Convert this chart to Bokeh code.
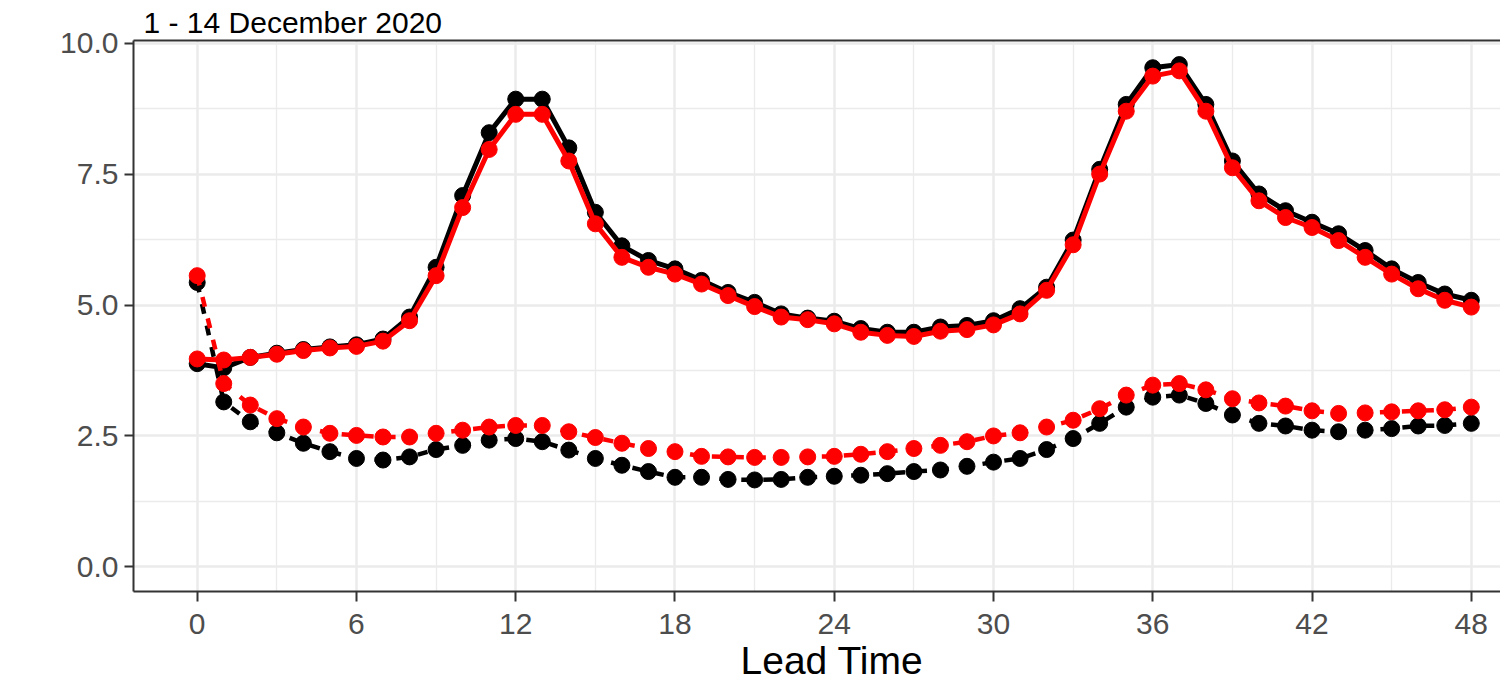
from bokeh.plotting import figure
from bokeh.models import Range1d, FixedTicker, NumeralTickFormatter, LinearAxis, Title
from bokeh.embed import file_html
from bokeh.resources import INLINE

# ---- data ----
lead_time = list(range(0, 49))

upper_black = [3.88, 3.80, 4.00, 4.08, 4.15, 4.20, 4.24, 4.35, 4.77, 5.72,
               7.09, 8.29, 8.93, 8.93, 8.00, 6.77, 6.13, 5.85, 5.69, 5.47,
               5.24, 5.05, 4.83, 4.75, 4.69, 4.55, 4.48, 4.48, 4.58, 4.61,
               4.70, 4.93, 5.34, 6.24, 7.59, 8.83, 9.53, 9.59, 8.83, 7.75,
               7.12, 6.80, 6.58, 6.36, 6.04, 5.69, 5.43, 5.21, 5.09]
upper_red = [3.97, 3.95, 4.00, 4.06, 4.13, 4.18, 4.21, 4.31, 4.70, 5.56,
             6.86, 7.97, 8.64, 8.64, 7.75, 6.55, 5.91, 5.72, 5.59, 5.40,
             5.18, 4.97, 4.77, 4.72, 4.64, 4.48, 4.42, 4.40, 4.50, 4.53,
             4.62, 4.83, 5.28, 6.15, 7.50, 8.70, 9.37, 9.47, 8.70, 7.62,
             6.99, 6.67, 6.48, 6.23, 5.91, 5.59, 5.31, 5.09, 4.96]
lower_black = [5.43, 3.15, 2.77, 2.56, 2.36, 2.20, 2.07, 2.04, 2.10, 2.24,
               2.32, 2.42, 2.45, 2.39, 2.23, 2.07, 1.94, 1.82, 1.71, 1.71,
               1.67, 1.66, 1.67, 1.71, 1.73, 1.75, 1.78, 1.82, 1.85, 1.92,
               2.00, 2.07, 2.24, 2.45, 2.74, 3.05, 3.24, 3.28, 3.12, 2.90,
               2.74, 2.69, 2.61, 2.58, 2.61, 2.64, 2.69, 2.70, 2.74]
lower_red = [5.56, 3.50, 3.09, 2.83, 2.67, 2.55, 2.51, 2.48, 2.48, 2.55,
             2.61, 2.67, 2.70, 2.70, 2.58, 2.47, 2.36, 2.26, 2.20, 2.11,
             2.10, 2.09, 2.09, 2.10, 2.11, 2.15, 2.20, 2.26, 2.32, 2.39,
             2.50, 2.56, 2.67, 2.80, 3.02, 3.28, 3.47, 3.50, 3.38, 3.21,
             3.13, 3.07, 2.98, 2.93, 2.94, 2.96, 2.98, 3.00, 3.05]

x_ticks = [0, 6, 12, 18, 24, 30, 36, 42, 48]
x_minor = [3, 9, 15, 21, 27, 33, 39, 45]
y_ticks = [0, 2.5, 5.0, 7.5, 10.0]
y_minor = [1.25, 3.75, 6.25, 8.75]
title_text = "1 - 14 December 2020"
x_label = "Lead Time"

FONT = "Liberation Sans"

p = figure(width=1500, height=693, output_backend="svg", toolbar_location=None,
           x_range=Range1d(-2.4, 49.1), y_range=Range1d(-0.47, 10.05),
           min_border_left=133, min_border_right=0, min_border_top=40,
           min_border_bottom=102, x_axis_location=None, y_axis_location=None)
p.outline_line_color = None
p.background_fill_color = "white"
p.border_fill_color = "white"

# axes
xaxis = LinearAxis(ticker=FixedTicker(ticks=x_ticks, minor_ticks=x_minor))
yaxis = LinearAxis(ticker=FixedTicker(ticks=y_ticks, minor_ticks=y_minor),
                   formatter=NumeralTickFormatter(format="0.0"))
topaxis = LinearAxis(ticker=FixedTicker(ticks=[]))
for ax in (xaxis, yaxis, topaxis):
    ax.axis_line_color = "#333333"
    ax.axis_line_width = 2
    ax.major_tick_line_color = "#333333"
    ax.major_tick_line_width = 2
    ax.major_tick_in = 0
    ax.minor_tick_line_color = None
    ax.major_label_text_font = FONT
    ax.major_label_text_font_size = "30px"
    ax.major_label_text_color = "#4d4d4d"
xaxis.major_tick_out = 10
yaxis.major_tick_out = 9
xaxis.major_label_standoff = 12
yaxis.major_label_standoff = 6
topaxis.major_tick_out = 0
p.add_layout(xaxis, "below")
p.add_layout(yaxis, "left")
p.add_layout(topaxis, "above")

# x axis title, centred where ggplot centred it (the panel runs past the crop)
p.add_layout(Title(text=x_label, align="left", text_font=FONT,
                   text_font_size="39px", text_font_style="normal",
                   text_color="black", standoff=0, offset=607), "below")

# chart title
p.add_layout(Title(text=title_text, align="left", text_font=FONT,
                   text_font_size="30px", text_font_style="normal",
                   text_color="black", standoff=3, offset=10), "above")

# grids
p.xgrid.ticker = xaxis.ticker
p.ygrid.ticker = yaxis.ticker
for g in (p.xgrid, p.ygrid):
    g.grid_line_color = "#ebebeb"
    g.grid_line_width = 2.5
    g.minor_grid_line_color = "#ebebeb"
    g.minor_grid_line_width = 1.3

# series: black first, then red on top
for col, up, low in (("black", upper_black, lower_black), ("#ff0000", upper_red, lower_red)):
    p.line(lead_time, up, line_color=col, line_width=5)
    p.line(lead_time, low, line_color=col, line_width=4.5, line_dash="10 12")
    p.scatter(lead_time, up, size=16, fill_color=col, line_color=col)
    p.scatter(lead_time, low, size=16, fill_color=col, line_color=col)

open("out.html", "w").write(file_html(p, INLINE))
